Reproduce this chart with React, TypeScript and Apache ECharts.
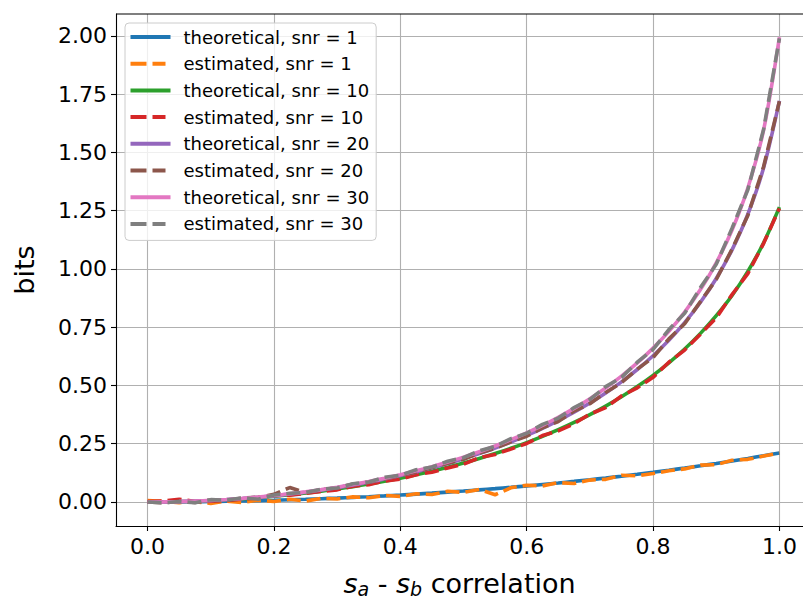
import React, { useEffect, useRef } from "react";
import * as echarts from "echarts";

const xs = [0, 0.025, 0.05, 0.075, 0.1, 0.125, 0.15, 0.175, 0.2, 0.225, 0.25, 0.275, 0.3, 0.325, 0.35, 0.375, 0.4, 0.425, 0.45, 0.475, 0.5, 0.525, 0.55, 0.575, 0.6, 0.625, 0.65, 0.675, 0.7, 0.725, 0.75, 0.775, 0.8, 0.825, 0.85, 0.875, 0.9, 0.925, 0.95, 0.975, 1.0];

const theo1 = [0, 0.0001, 0.0005, 0.001, 0.0018, 0.0029, 0.0041, 0.0056, 0.0073, 0.0093, 0.0115, 0.014, 0.0166, 0.0195, 0.0227, 0.0261, 0.0298, 0.0337, 0.0379, 0.0424, 0.0471, 0.0521, 0.0574, 0.063, 0.0689, 0.0751, 0.0815, 0.0884, 0.0955, 0.1029, 0.1107, 0.1189, 0.1274, 0.1363, 0.1456, 0.1553, 0.1654, 0.176, 0.187, 0.1985, 0.2104];
const est1 = [0.006, 0.002, -0.003, 0.001, -0.006, 0.004, -0.002, 0.008, 0.002, 0.012, 0.004, 0.016, 0.013, 0.022, 0.018, 0.028, 0.024, 0.035, 0.032, 0.046, 0.041, 0.054, 0.031, 0.061, 0.072, 0.069, 0.083, 0.079, 0.094, 0.097, 0.115, 0.112, 0.122, 0.134, 0.142, 0.158, 0.16, 0.179, 0.183, 0.197, 0.21];
const theo10 = [0, 0.0004, 0.0015, 0.0034, 0.006, 0.0094, 0.0135, 0.0185, 0.0243, 0.0309, 0.0383, 0.0466, 0.0558, 0.0659, 0.0771, 0.0892, 0.1024, 0.1167, 0.1322, 0.149, 0.1671, 0.1867, 0.2077, 0.2304, 0.2549, 0.2814, 0.3101, 0.3412, 0.3748, 0.4115, 0.4515, 0.4953, 0.5435, 0.597, 0.6565, 0.7236, 0.7995, 0.886, 0.9896, 1.1128, 1.2656];
const est10 = [0.002, 0.004, 0.012, 0.002, 0.003, 0.006, 0.012, 0.017, 0.028, 0.029, 0.037, 0.045, 0.052, 0.068, 0.074, 0.09, 0.098, 0.117, 0.128, 0.146, 0.162, 0.19, 0.204, 0.227, 0.251, 0.285, 0.305, 0.336, 0.377, 0.405, 0.455, 0.49, 0.535, 0.6, 0.652, 0.72, 0.79, 0.89, 0.98, 1.11, 1.26];
const theo20 = [0, 0.0004, 0.0016, 0.0037, 0.0066, 0.0104, 0.0149, 0.0205, 0.0267, 0.0342, 0.0421, 0.0513, 0.0615, 0.0727, 0.0851, 0.0985, 0.1132, 0.1291, 0.1466, 0.1651, 0.1857, 0.2075, 0.2316, 0.2575, 0.2855, 0.316, 0.3491, 0.3852, 0.4246, 0.4679, 0.5157, 0.5686, 0.6277, 0.6942, 0.7698, 0.857, 0.9593, 1.0822, 1.2349, 1.4348, 1.7212];
const est20 = [0, -0.004, 0.003, -0.002, 0.008, 0.006, 0.017, 0.02, 0.033, 0.062, 0.04, 0.053, 0.06, 0.077, 0.085, 0.1, 0.115, 0.128, 0.148, 0.166, 0.183, 0.21, 0.23, 0.258, 0.282, 0.318, 0.345, 0.39, 0.422, 0.47, 0.512, 0.57, 0.62, 0.7, 0.765, 0.86, 0.955, 1.085, 1.23, 1.44, 1.72];
const theo30 = [0, 0.0004, 0.0017, 0.0038, 0.0068, 0.0106, 0.0154, 0.021, 0.0276, 0.0351, 0.0435, 0.053, 0.0635, 0.0752, 0.088, 0.1019, 0.1172, 0.1338, 0.1518, 0.1713, 0.1925, 0.2155, 0.2404, 0.2675, 0.2968, 0.3288, 0.3636, 0.4016, 0.4433, 0.4893, 0.5401, 0.5968, 0.6604, 0.7325, 0.8152, 0.9116, 1.0264, 1.1672, 1.3479, 1.5971, 1.9943];
const est30 = [0, -0.004, 0.002, -0.003, 0.01, 0.008, 0.018, 0.012, 0.03, 0.037, 0.041, 0.055, 0.06, 0.078, 0.086, 0.106, 0.115, 0.138, 0.15, 0.175, 0.19, 0.22, 0.238, 0.272, 0.295, 0.333, 0.36, 0.405, 0.44, 0.495, 0.535, 0.6, 0.655, 0.74, 0.81, 0.92, 1.02, 1.175, 1.34, 1.6, 1.99];

const xTicks = [0, 0.2, 0.4, 0.6, 0.8, 1.0];
const yTicks = [0, 0.25, 0.5, 0.75, 1.0, 1.25, 1.5, 1.75, 2.0];

const seriesNames = [
  "theoretical, snr = 1",
  "estimated, snr = 1",
  "theoretical, snr = 10",
  "estimated, snr = 10",
  "theoretical, snr = 20",
  "estimated, snr = 20",
  "theoretical, snr = 30",
  "estimated, snr = 30",
];
const seriesData = [theo1, est1, theo10, est10, theo20, est20, theo30, est30];
const colors = ["#1f77b4", "#ff7f0e", "#2ca02c", "#d62728", "#9467bd", "#8c564b", "#e377c2", "#7f7f7f"];

const FONT = "DejaVu Sans";
const SOLID_ICON = "path://M0,0h40v4h-40z";
const DASH_ICON = "path://M0,0h16v4h-16z M22,0h13v4h-13z M39.9,1.9h0.1v0.2h-0.1z";

export default function App() {
  const ref = useRef<HTMLDivElement>(null);
  useEffect(() => {
    if (!ref.current) return;
    const chart = echarts.init(ref.current, null, { renderer: "svg" });
    const series = seriesNames.map((name, i) => {
      const dashed = i % 2 === 1;
      return {
        name,
        type: "line",
        data: xs.map((x, k) => [x, seriesData[i][k]]),
        showSymbol: false,
        symbol: "none",
        smooth: dashed ? false : 0.3,
        color: colors[i],
        lineStyle: {
          color: colors[i],
          width: 3.6,
          type: dashed ? [14, 6] : "solid",
        },
        z: 2 + i,
      };
    });
    chart.setOption({
      animation: false,
      backgroundColor: "#ffffff",
      textStyle: { fontFamily: FONT },
      grid: { left: 116, top: 14, right: 0, bottom: 73, containLabel: false, outerBoundsMode: "none" },
      legend: {
        left: 125,
        top: 23,
        orient: "vertical",
        data: seriesNames.map((n, i) => ({ name: n, icon: i % 2 === 1 ? DASH_ICON : SOLID_ICON })),
        itemWidth: 40,
        itemHeight: 4,
        itemGap: 5.7,
        padding: [3.5, 7, 6, 5.5],
        backgroundColor: "rgba(255,255,255,0.8)",
        borderColor: "#cccccc",
        borderWidth: 1,
        borderRadius: 4,
        textStyle: { fontFamily: FONT, fontSize: 18, lineHeight: 21, color: "#000", padding: [0, 0, 0, 8] },
      },
      xAxis: {
        type: "value",
        min: -0.05,
        max: 1.0373,
        name: "{i|s}{sub|a}{n| - }{i|s}{sub|b}{n| correlation}",
        nameLocation: "middle",
        nameGap: 42,
        nameTextStyle: {
          fontFamily: FONT,
          color: "#000",
          rich: {
            i: { fontFamily: FONT, fontSize: 27, fontStyle: "italic", lineHeight: 30, color: "#000" },
            n: { fontFamily: FONT, fontSize: 27, lineHeight: 30, color: "#000" },
            sub: { fontFamily: FONT, fontSize: 19, fontStyle: "italic", lineHeight: 18, verticalAlign: "bottom", color: "#000" },
          },
        },
        axisLine: { show: true, onZero: false, lineStyle: { color: "#000", width: 1.1 } },
        axisTick: { show: true, customValues: xTicks, length: 5, lineStyle: { color: "#000", width: 1.1 } },
        axisLabel: {
          customValues: xTicks,
          formatter: (v: number) => v.toFixed(1),
          fontFamily: FONT,
          fontSize: 22,
          color: "#000",
          margin: 9,
        },
        splitLine: { show: true, lineStyle: { color: "#b0b0b0", width: 1.1 } },
      },
      yAxis: {
        type: "value",
        min: -0.1031,
        max: 2.0944,
        name: "bits",
        nameLocation: "middle",
        nameGap: 78,
        nameTextStyle: { fontFamily: FONT, fontSize: 27, color: "#000" },
        axisLine: { show: true, onZero: false, lineStyle: { color: "#000", width: 1.1 } },
        axisTick: { show: true, customValues: yTicks, length: 5, lineStyle: { color: "#000", width: 1.1 } },
        axisLabel: {
          customValues: yTicks,
          formatter: (v: number) => v.toFixed(2),
          fontFamily: FONT,
          fontSize: 22,
          color: "#000",
          margin: 9,
        },
        splitLine: { show: true, lineStyle: { color: "#b0b0b0", width: 1.1 } },
      },
      graphic: [
        {
          type: "line",
          shape: { x1: 116, y1: 14, x2: 803, y2: 14 },
          style: { stroke: "#000", lineWidth: 1.1 },
          z: 100,
        },
      ],
      series,
    });
    return () => chart.dispose();
  }, []);
  return (
    <div
      ref={ref}
      style={{ position: "fixed", left: 0, top: 0, width: 803, height: 599 }}
    />
  );
}
